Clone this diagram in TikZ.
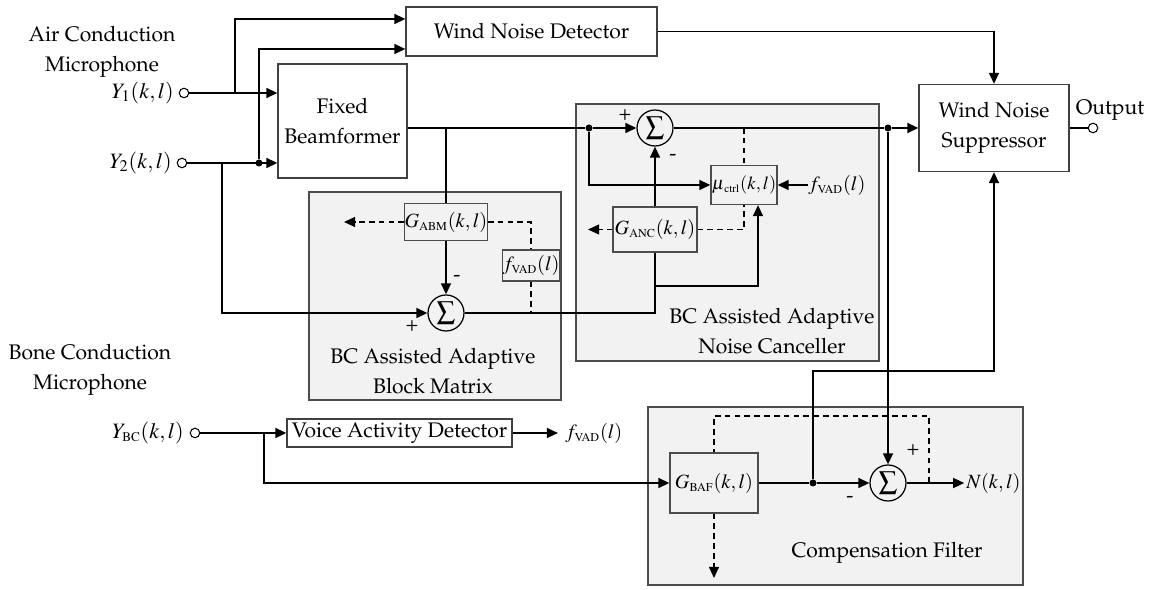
\documentclass[tikz,border=0pt]{standalone}
\usepackage[T1]{fontenc}
\usepackage{mathptmx}
\renewcommand{\rmdefault}{ppl}
\usetikzlibrary{arrows.meta}
\newcommand{\figfont}{\fontsize{12}{17}\selectfont}
\newcommand{\boxmath}{\fontsize{11.5}{13}\selectfont}
\newcommand{\sub}[1]{{\scriptscriptstyle\mathrm{#1}}}
\begin{document}
\begin{tikzpicture}[x=0.02cm,y=-0.02cm,
  >={Triangle[length=6.3pt,width=5.6pt]},
  conn/.style={line width=1.1pt},
  dconn/.style={line width=0.9pt,dash pattern=on 3.2pt off 2.4pt},
  wbox/.style={draw=black!75,line width=0.7pt,fill=white,inner sep=0pt,align=center,font=\figfont},
  gbox/.style={draw=black!70,line width=0.7pt,inner sep=0pt,align=center,font=\boxmath},
  panel/.style={draw=black!70,line width=0.7pt,fill=black!5},
  sumn/.style={circle,draw=black,line width=0.7pt,minimum size=0.72cm,inner sep=0pt},
  sumsym/.style={font=\fontsize{15}{15}\selectfont,inner sep=0pt},
  dot/.style={circle,fill=black,minimum size=0.14cm,inner sep=0pt},
  port/.style={circle,draw=black,fill=white,line width=0.6pt,minimum size=0.19cm,inner sep=0pt},
  txt/.style={font=\figfont,align=center,inner sep=0pt},
  mtxt/.style={font=\fontsize{12.5}{14}\selectfont,inner sep=0pt},
  stxt/.style={font=\boxmath,inner sep=0pt}
]
\useasboundingbox (0,0) rectangle (1153,590);

% panels
\draw[panel] (309,192) rectangle (561,400);
\draw[panel] (576,104) rectangle (879,361);
\draw[panel] (648,407) rectangle (1023,585);

% labels
\node[txt] at (102,52) {Air Conduction\\Microphone};
\node[txt] at (90,370) {Bone Conduction\\Microphone};
\node[txt] at (433,371) {BC Assisted Adaptive\\Block Matrix};
\node[txt] at (772,331) {BC Assisted Adaptive\\Noise Canceller};
\node[txt] at (887,553) {Compensation Filter};
\node[txt] at (1110,110) {Output};

% inputs
\node[port] (y1) at (184,93) {};
\node[mtxt,anchor=east] at (174,93) {$Y_{1}(k,l)$};
\node[port] (y2) at (182,163) {};
\node[mtxt,anchor=east] at (172,163) {$Y_{2}(k,l)$};
\node[port] (ybc) at (195,433) {};
\node[mtxt,anchor=east] at (184,433) {$Y_{\sub{BC}}(k,l)$};

% blocks
\node[wbox,minimum width=2.58cm,minimum height=2.28cm] (fb) at (342.5,121) {Fixed\\Beamformer};
\node[wbox,minimum width=5.02cm,minimum height=0.98cm] (wnd) at (531.5,31.5) {Wind Noise Detector};
\node[wbox,minimum width=3.0cm,minimum height=1.74cm] (wns) at (994,128) {Wind Noise\\Suppressor};
\node[wbox,minimum width=4.5cm,minimum height=0.56cm] (vad) at (399.5,433) {Voice Activity Detector};

\node[gbox,minimum width=1.52cm,minimum height=0.74cm] (gabm) at (446,222) {$G_{\sub{ABM}}(k,l)$};
\node[gbox,minimum width=1.12cm,minimum height=0.62cm] (fvb) at (531,265.5) {$f_{\sub{VAD}}(l)$};
\node[gbox,minimum width=1.32cm,minimum height=0.78cm,font=\fontsize{10.5}{12}\selectfont] (mu) at (744,185) {$\mu{}_{\sub{ctrl}}(k,l)$};
\node[gbox,minimum width=1.68cm,minimum height=0.9cm] (ganc) at (655,229.5) {$G_{\sub{ANC}}(k,l)$};
\node[gbox,minimum width=1.76cm,minimum height=1.2cm] (gbaf) at (714,483) {$G_{\sub{BAF}}(k,l)$};

\node[sumn] (sabm) at (446,313) {};
\node[sumsym] at (sabm) {$\sum$};
\node[sumn] (sanc) at (655,128) {};
\node[sumsym] at (sanc) {$\sum$};
\node[sumn] (scf) at (888,483) {};
\node[sumsym] at (scf) {$\sum$};

% signs
\node[txt] at (412,326) {+};
\node[txt] at (457,279) {-};
\node[txt] at (625,115) {+};
\node[txt] at (673,158) {-};
\node[txt] at (913,450) {+};
\node[txt] at (850,500) {-};

% dots
\node[dot] (d1) at (259,163) {};
\node[dot] (d2) at (589,128) {};
\node[dot] (d3) at (888,128) {};
\node[dot] (d4) at (813,483) {};

% Y1 / Y2 wiring
\coordinate (b1) at (235,93);
\coordinate (b2) at (222,163);
\draw[conn,->] (y1) -- (y1 -| fb.west);
\draw[conn,->] (b1) |- (wnd.west |- 0,19);
\draw[conn,->] (y2) -- (y2 -| fb.west);
\draw[conn,->] (d1) |- (wnd.west |- 0,49);
\draw[conn,->] (b2) |- (sabm.west);

% beamformer output
\coordinate (fbo) at (fb.east |- 0,128);
\coordinate (b3) at (446,128);
\draw[conn] (fbo) -- (d2);
\draw[conn,->] (d2) -- (sanc.west);
\draw[conn] (b3) -- (gabm.north);

% ABM
\draw[conn,->] (gabm.south) -- (sabm.north);
\draw[dconn,->] (gabm.west) -- (344,222);
\draw[dconn] (gabm.east) -| (fvb.north);
\draw[dconn] (fvb.south) -- (fvb.south |- sabm.east);
\draw[conn] (sabm.east) -| (ganc.south);

% ANC
\coordinate (b4) at (655,286);
\draw[conn,->] (b4) -| (mu.south -| 758,0);
\draw[conn,->] (ganc.north) -- (sanc.south);
\draw[conn,->] (d2) |- (mu.west);
\draw[dconn] (744,128) -- (mu.north);
\draw[dconn,->] (ganc.west) -- (588,229.5);
\draw[dconn] (ganc.east) -| (mu.south);
\node[stxt,anchor=west] (fv2) at (808,185) {$f_{\sub{VAD}}(l)$};
\draw[conn,->] (fv2.west) -- (mu.east);

% to suppressor
\draw[conn] (sanc.east) -- (d3);
\draw[conn,->] (d3) -- (wns.west |- d3);
\draw[conn,->] (d3) -- (scf.north);
\draw[conn,->] (wnd.east) -| (wns.north);
\node[port] (out) at (1093,128) {};
\draw[conn] (wns.east |- out) -- (out);

% bone conduction
\coordinate (b5) at (264,433);
\draw[conn,->] (ybc) -- (vad.west);
\draw[conn,->] (b5) |- (gbaf.west);
\node[stxt,anchor=west] (fv3) at (565,433) {$f_{\sub{VAD}}(l)$};
\draw[conn,->] (vad.east) -- ([xshift=-4pt]fv3.west);

% compensation filter
\draw[conn] (gbaf.east) -- (d4);
\draw[conn,->] (d4) -- (scf.west);
\draw[conn,->] (d4) |- (wns.south |- 0,371) -- (wns.south);
\node[stxt,anchor=west] (nkl) at (966,483) {$N(k,l)$};
\draw[conn,->] (scf.east) -- ([xshift=-1pt]nkl.west);
\draw[dconn] (929,483) |- (gbaf.north |- 0,416) -- (gbaf.north);
\draw[dconn,->] (gbaf.south) -- (714,578);
\end{tikzpicture}
\end{document}
